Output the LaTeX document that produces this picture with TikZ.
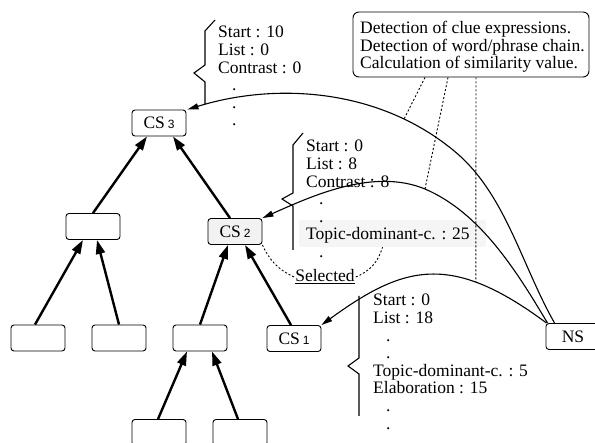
\documentclass[tikz,border=0pt]{standalone}
\usepackage{fontspec}
\setmainfont{Liberation Serif}
\newfontfamily\idxfont{Liberation Sans}
\usetikzlibrary{arrows.meta,calc}
\newcommand\csidx[1]{{\fontsize{12}{12}\selectfont\idxfont #1}}
\begin{document}
\begin{tikzpicture}[x=1pt,y=-1pt,
  box/.style={draw, rounded corners=3pt, line width=0.9pt, minimum width=54pt, minimum height=26pt, inner sep=0pt, font=\fontsize{17.5}{18}\selectfont},
  tree/.style={line width=2.4pt, -{Triangle[length=14pt,width=9pt]}},
  link/.style={line width=1.1pt, -{Triangle[length=11pt,width=6pt]}},
  dots/.style={line width=0.9pt, dash pattern=on 2pt off 2pt},
  brace/.style={line width=1.1pt, line join=miter},
  txt/.style={anchor=base west, inner sep=0pt, font=\fontsize{17.5}{17.6}\selectfont}
]
\useasboundingbox (0,0) rectangle (595,443);

% tree nodes
\node[box] (cs3) at (159,123) {CS\,\csidx{3}};
\node[box] (m) at (93,226.5) {};
\node[box, fill=gray!10] (cs2) at (235,231.5) {CS\,\csidx{2}};
\node[box] (b1) at (38,338) {};
\node[box] (b2) at (119,338) {};
\node[box] (b3) at (200,338) {};
\node[box] (cs1) at (294,338.5) {CS\,\csidx{1}};
\node[box] (ns) at (573,336.5) {NS};
\node[box] (b4) at (159,432.5) {};
\node[box] (b5) at (240,432.5) {};

% tree arrows
\draw[tree] (m.north) -- ($(cs3.south)+(-12,0)$);
\draw[tree] ($(cs2.north)+(-5,0)$) -- ($(cs3.south)+(14,0)$);
\draw[tree] ($(b1.north)+(-3,0)$) -- ($(m.south)+(-10,0)$);
\draw[tree] (b2.north) -- ($(m.south)+(4,0)$);
\draw[tree] (b3.north) -- ($(cs2.south)+(-7,0)$);
\draw[tree] ($(cs1.north)+(-3,0)$) -- ($(cs2.south)+(10,0)$);
\draw[tree] ($(b4.north)+(-1,0)$) -- ($(b3.south)+(-13,0)$);
\draw[tree] ($(b5.north)+(-2,0)$) -- ($(b3.south)+(12,0)$);

% gray background of selected score
\node[fill=gray!8, rounded corners=2pt, minimum width=187pt, minimum height=27pt, inner sep=0pt] (topic) at (392.5,233.5) {};

% braces
\draw[brace] (215,20) -- (205,31) -- (205,65) -- (194,73) -- (205,82) -- (205,104);
\draw[brace] (303,133) -- (293,145) -- (293,193) -- (282,199) -- (293,206) -- (293,250);
\draw[brace] (359,296) -- (359,358) -- (348,366) -- (359,374) -- (359,416);

% curves from NS
\draw[link] ($(ns.north west)+(9,0)$) .. controls (521,264) and (505,192) .. (453,150)
  .. controls (376,87) and (273,83) .. ($(cs3.north east)+(1,0)$) coordinate[pos=0.2] (d1);
\draw[link] ($(ns.north west)+(2,0)$) .. controls (517,272) and (481,213) .. (425,189) coordinate (d2)
  .. controls (374,168) and (314,195) .. (cs2.north east);
\draw[link] ($(ns.north west)+(1,0)$) .. controls (451,252) and (404,265) .. (cs1.north east) coordinate[pos=0.28] (d3);

% process box
\node[draw, rounded corners=6pt, line width=0.9pt, minimum width=236pt, minimum height=65pt, inner sep=0pt] (proc) at (471,44.5) {};
\node[txt, font=\fontsize{17.5}{17}\selectfont] (proctext) at (360,34) {\begin{tabular}[t]{@{}l@{}}Detection of clue expressions.\\ Detection of word/phrase chain.\\ Calculation of similarity value.\end{tabular}};
\draw[dots] ($(proc.south)+(-46,0)$) -- (d1);
\draw[dots] ($(proc.south)+(-23,0)$) -- (d2);
\draw[dots] ($(proc.south)+(5,0)$) -- (d3);

% score lists
\node[txt] (t1) at (218,38) {\begin{tabular}[t]{@{}l@{}}Start : 10\\ List : 0\\ Contrast : 0\\ \hspace{14pt}.\\ \hspace{14pt}.\\ \hspace{14pt}.\end{tabular}};
\node[txt] (t2) at (306,152) {\begin{tabular}[t]{@{}l@{}}Start : 0\\ List : 8\\ Contrast : 8\\ \hspace{13pt}.\\ \hspace{13pt}.\\ Topic-dominant-c. : 25\\ \hspace{13pt}.\end{tabular}};
\node[txt] (t3) at (373,306) {\begin{tabular}[t]{@{}l@{}}Start : 0\\ List : 18\\ \hspace{13pt}.\\ \hspace{13pt}.\\ Topic-dominant-c. : 5\\ Elaboration : 15\\ \hspace{13pt}.\\ \hspace{13pt}.\end{tabular}};

% selected
\node[anchor=base, inner sep=1pt, font=\fontsize{17.5}{18}\selectfont] (sel) at (325,282) {\underline{Selected}};
\draw[dots] (cs2.south east) to[bend right=20] (sel.west);
\draw[dots] (sel.east) to[bend right=25] ($(topic.south)+(-10,0)$);
\end{tikzpicture}
\end{document}
